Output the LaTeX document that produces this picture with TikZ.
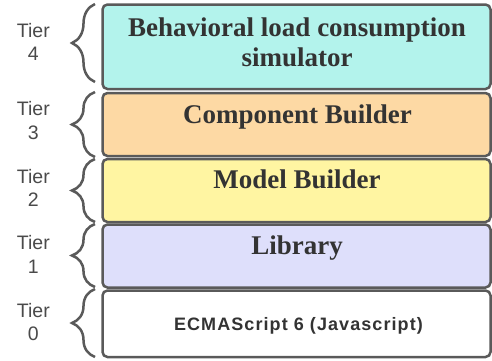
\documentclass[tikz,border=0pt]{standalone}
\usepackage{fontspec}
\setmainfont{Liberation Serif}
\setsansfont{Liberation Sans}
\usetikzlibrary{positioning,decorations.pathreplacing}

\definecolor{edgegray}{HTML}{5A5A5A}
\definecolor{inkgray}{HTML}{333333}
\definecolor{tiergray}{HTML}{4A4A4A}
\definecolor{simcol}{HTML}{B3F3EC}
\definecolor{compcol}{HTML}{FDD9A4}
\definecolor{modelcol}{HTML}{FFF5A2}
\definecolor{libcol}{HTML}{DEDFFB}

\begin{document}
\begin{tikzpicture}[x=1pt, y=-1pt,
  tierbox/.style = {shape=rectangle, rounded corners=5pt,
    draw=edgegray, line width=2.5pt, minimum width=388pt,
    inner sep=0pt},
  boxtext/.style = {anchor=base, align=center, text=inkgray,
    font=\bfseries\fontsize{27}{30}\selectfont},
  tierlabel/.style = {align=center, text=tiergray, inner sep=0pt,
    font=\sffamily\fontsize{19.5}{23.3}\selectfont},
  tierbrace/.style = {draw=edgegray, line width=2.5pt,
    decorate, decoration={brace, amplitude=23pt}}]
  \useasboundingbox (0,0) rectangle (492,360);

  % stacked tiers
  \node[tierbox, fill=simcol, minimum height=84.5pt] (t4box) at (296.5,46.75) {};
  \node[tierbox, fill=compcol, minimum height=63pt] (t3box) at (296.5,124.5) {};
  \node[tierbox, fill=modelcol, minimum height=63pt] (t2box) at (296.5,190.5) {};
  \node[tierbox, fill=libcol, minimum height=63pt] (t1box) at (296.5,256) {};
  \node[tierbox, fill=white, minimum height=66.5pt] (t0box) at (296.5,323.75) {};

  % base of a two-line node is its last line
  \node[boxtext] (t4text) at (297,66.7) {Behavioral load consumption\\simulator};
  \node[boxtext] (t3text) at (297.5,123.3) {Component Builder};
  \node[boxtext] (t2text) at (297,188.3) {Model Builder};
  \node[boxtext] (t1text) at (297,254) {Library};
  \node[boxtext, font={\sffamily\bfseries\fontsize{18}{20}\selectfont
      \addfontfeature{LetterSpace=6}}]
    (t0text) at (298.5,330) {ECMAScript 6 (Javascript)};

  % braces and tier numbers
  \coordinate (b4top) at (95,4);   \coordinate (b4bot) at (95,82);
  \coordinate (b3top) at (95,92);  \coordinate (b3bot) at (95,157);
  \coordinate (b2top) at (95,159); \coordinate (b2bot) at (95,222);
  \coordinate (b1top) at (95,224); \coordinate (b1bot) at (95,287);
  \coordinate (b0top) at (95,289); \coordinate (b0bot) at (95,357);

  \draw[tierbrace] (b4bot) -- (b4top);
  \draw[tierbrace] (b3bot) -- (b3top);
  \draw[tierbrace] (b2bot) -- (b2top);
  \draw[tierbrace] (b1bot) -- (b1top);
  \draw[tierbrace] (b0bot) -- (b0top);

  \coordinate (b4tip) at (72,42);
  \coordinate (b3tip) at (72,120.5);
  \coordinate (b2tip) at (72,188);
  \coordinate (b1tip) at (72,254.5);
  \coordinate (b0tip) at (72,322);

  \node[tierlabel, left=22pt of b4tip] (t4tier) {Tier\\4};
  \node[tierlabel, left=22pt of b3tip] (t3tier) {Tier\\3};
  \node[tierlabel, left=22pt of b2tip] (t2tier) {Tier\\2};
  \node[tierlabel, left=22pt of b1tip] (t1tier) {Tier\\1};
  \node[tierlabel, left=22pt of b0tip] (t0tier) {Tier\\0};
\end{tikzpicture}
\end{document}
